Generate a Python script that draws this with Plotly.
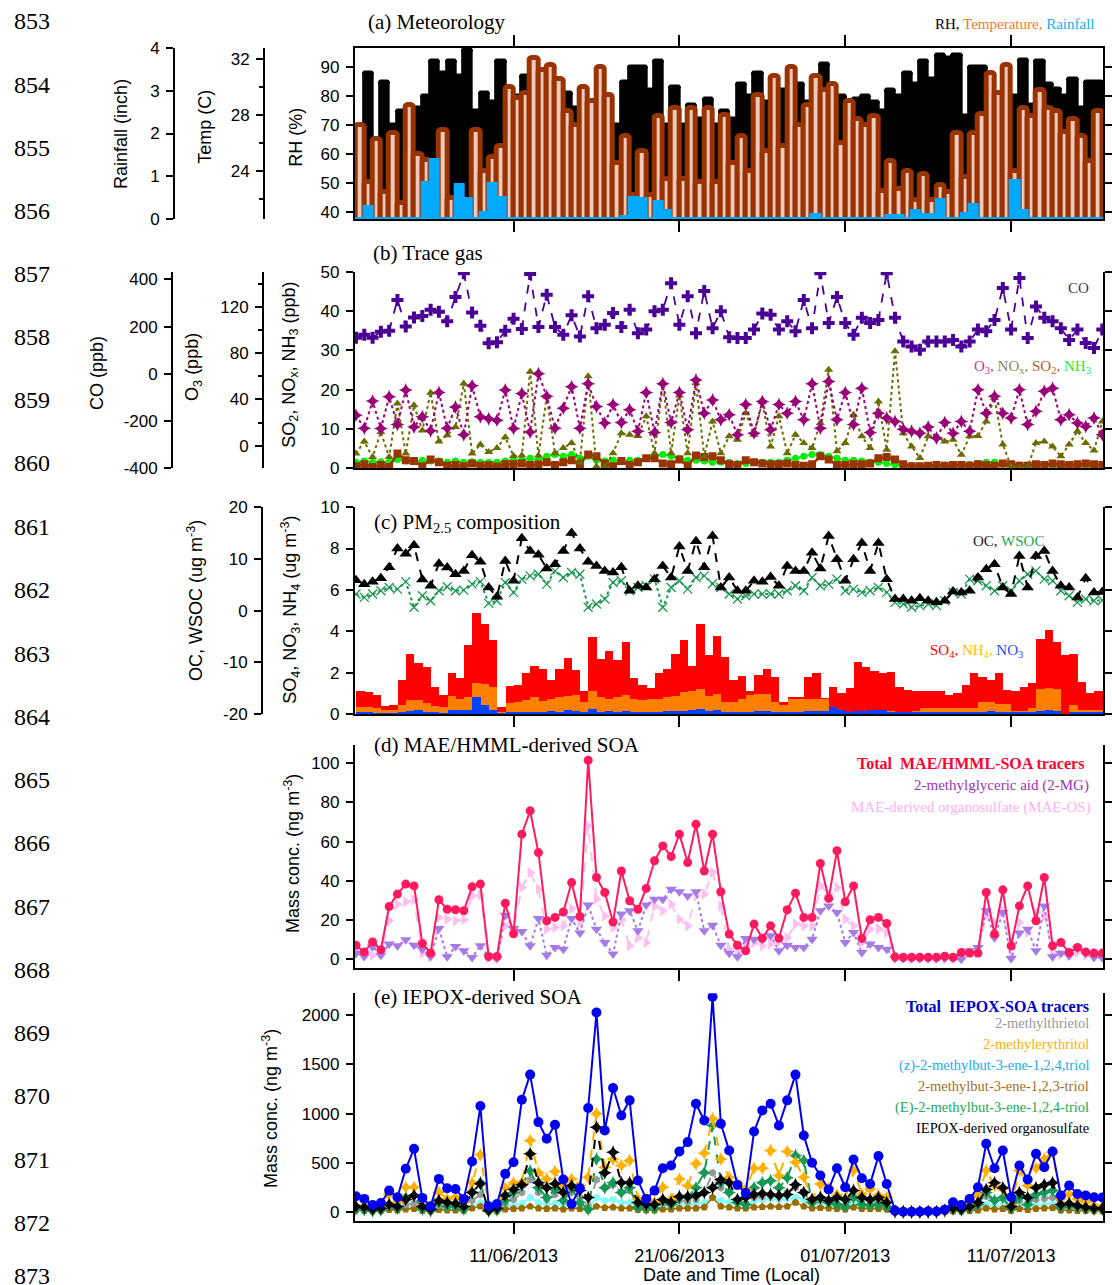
import plotly.graph_objects as go
import pandas as pd

W, H = 1112, 1285

# ---------------- data (12-h samples) ----------------
dates = pd.date_range("2013-06-01 12:00", periods=91, freq="12h")
x_ticks = ["2013-06-11", "2013-06-21", "2013-07-01", "2013-07-11"]
line_numbers = [str(n) for n in range(853, 874)]

rh = [65, 88, 62, 85, 70, 75, 70, 76, 80, 92,
      88, 92, 87, 96, 75, 81, 78, 92, 75, 80,
      87, 85, 84, 80, 84, 81, 76, 74, 72, 75,
      74, 70, 85, 90, 90, 82, 92, 70, 83, 70,
      77, 72, 79, 70, 75, 72, 84, 80, 88, 78,
      81, 82, 80, 84, 78, 82, 91, 80, 80, 78,
      79, 80, 78, 75, 82, 80, 88, 84, 92, 86,
      94, 93, 94, 73, 90, 90, 80, 78, 85, 80,
      92.5, 77, 92, 84, 82.5, 80, 86, 76, 85, 85,
      70]
temp = [27.3, 23.2, 26.3, 22.5, 26.7, 21.7, 28.7, 25.2, 24.8, 24.6,
        26.9, 22.1, 21.9, 21.5, 26.9, 24.0, 25.0, 25.8, 30.0, 29.2,
        29.6, 32.1, 31.2, 31.6, 30.6, 28.3, 27.3, 30.0, 29.0, 31.4,
        29.4, 24.6, 26.5, 22.3, 25.4, 22.3, 27.9, 23.4, 28.5, 23.4,
        28.5, 23.2, 28.5, 23.2, 28.0, 24.6, 26.5, 24.0, 29.4, 25.4,
        30.8, 25.8, 31.4, 27.3, 28.7, 30.8, 29.8, 30.2, 26.0, 29.0,
        27.7, 27.3, 27.9, 22.6, 24.7, 22.7, 24.0, 21.9, 23.8, 21.9,
        23.0, 22.5, 26.7, 23.6, 26.7, 28.1, 31.0, 29.6, 31.6, 24.0,
        28.5, 27.9, 29.8, 28.5, 28.3, 26.8, 27.7, 26.5, 24.7, 28.3,
        28.3]
rain = [0, 0.28, 0, 0, 0, 0, 0, 0, 0.84, 1.37,
        0, 0, 0.79, 0.47, 0, 0.15, 0.81, 0.5, 0, 0,
        0, 0, 0, 0, 0, 0, 0, 0, 0, 0,
        0, 0, 0.05, 0.5, 0.47, 0, 0.4, 0.19, 0, 0,
        0, 0, 0, 0, 0, 0, 0, 0, 0, 0,
        0, 0, 0, 0, 0, 0.09, 0, 0, 0, 0,
        0, 0, 0, 0, 0.07, 0.07, 0, 0.19, 0.1, 0.1,
        0.44, 0, 0, 0.12, 0.33, 0, 0, 0, 0, 0.88,
        0.19, 0, 0, 0, 0, 0, 0, 0, 0, 0,
        0]

co = [153, 165, 153, 178, 182, 313, 200, 238, 245, 271,
      263, 222, 325, 426, 260, 203, 129, 134, 182, 233,
      190, 423, 198, 335, 198, 165, 248, 158, 328, 193,
      208, 257, 198, 271, 172, 187, 265, 271, 384, 208,
      328, 172, 351, 193, 265, 155, 152, 152, 187, 255,
      250, 187, 222, 180, 313, 193, 426, 215, 325, 215,
      165, 237, 215, 228, 426, 237, 137, 115, 102, 137,
      137, 137, 143, 115, 137, 187, 180, 228, 363, 187,
      406, 152, 285, 237, 222, 193, 143, 187, 130, 109,
      187]
o3 = [26.4, 15.2, 38.6, 14.9, 42.3, 18.3, 48.1, 16.3, 25.1, 12.9,
      46.1, 15.2, 33.5, 9.5, 51.8, 25.1, 23.4, 22.0, 48.1, 14.9,
      45.1, 11.9, 62.3,
      42.7, 15.2, 32.5, 51.1, 15.2, 53.5, 33.9, 19.6, 35.6, 20.0,
      31.2, 12.5, 46.1, 11.5, 53.5, 20.0, 46.1, 13.9, 56.9, 28.1,
      39.6, 22.4, 26.8, 9.5, 35.6, 10.8, 38.3, 13.9, 35.6, 28.1,
      38.3, 22.4, 53.5, 15.2, 55.6, 22.4, 46.1, 18.3, 49.8, 11.5,
      28.1, 24.1, 21.0, 14.2, 12.5, 10.8, 16.3, 6.8, 20.0, 10.8,
      21.0, 12.5, 48.4, 28.1, 42.7, 28.1, 24.1, 48.4, 18.3, 29.8,
      47.1, 49.8, 22.4, 26.8, 19.6, 16.6, 24.1, 9.5]
nox = [3.7, 6.8, 2.8, 9.2, 2.8, 16.5, 3.7, 16, 9.6, 19.2,
       6.8, 8.4, 10.5, 21.6, 3.7, 6, 4.1, 5.1, 7.9, 3.1,
       3.2, 24.6, 3.2, 18.2, 3.8,
       5.1, 6.4, 1.4, 23.4, 0.4, 0.4, 3.8, 8.9,
       8.5, 8.2, 13.2, 3.8, 21.7, 3.8, 18.5, 3.8, 21.7, 3,
       11.9, 3.8, 8.1, 7.2, 14, 8.5, 16.8, 5.5, 13.2, 3.8,
       8.5, 6.4, 5.1, 11.5, 25.1, 4.3, 6.4, 13.6, 8.1,
       5.1, 17, 4.7, 29.8, 8.9, 5.5, 2.6, 8.1, 8.1,
       6.8, 7.2, 3.4, 8.1, 8.2, 11.9, 17.9, 6,
       0.4, 0, 0.3, 6.4, 6.8, 5.5, 3, 6,
       9.4, 6.4, 4.5, 11.9]
so2 = [0.5, 1.0, 0.3, 0.8, 0.3, 3.7, 2.0, 1.8, 0.5, 2.2,
       1.5, 0.6, 0.8, 0.5, 1.2, 0.6, 0.7, 0.4, 1.0, 1.0,
       1.2, 0.8, 0.9, 1.5, 0.8, 1.5, 2.0, 1.0, 3.5, 3.0,
       1.2, 0.5, 1.8, 0.8, 1.5, 2.5, 2.5, 1.2, 1.0, 2.2,
       0.6, 3.2, 2.8, 3.0, 2.0, 1.0, 0.8, 2.0, 1.5, 1.2,
       1.0, 1.0, 1.2, 0.8, 0.6, 1.0, 3.0, 2.2, 0.8, 0.8,
       1.0, 1.0, 1.2, 2.5, 2.8, 2.2, 1.0, 0.5, 0.5, 0.6,
       0.8, 0.6, 0.8, 0.8, 0.6, 1.0, 0.8, 0.6, 1.2, 1.0,
       0.6, 0.6, 1.0, 0.8, 1.2, 1.0, 0.8, 1.0, 1.2, 1.0,
       0.8]
nh3 = [1.5, 1.8, 1.5, 1.6, 1.5, 2.2, 1.8, 1.6, 2.0, 1.8,
       1.8, 1.5, 1.8, 1.5, 1.6, 1.5, 1.5, 1.5, 1.8, 2.0,
       2.0, 2.5, 2.0, 3.0, 3.5, 3.0, 3.5, 2.5, 3.0, 2.0,
       1.8, 2.0, 1.8, 2.0, 2.0, 2.5, 3.0, 3.5, 3.0, 2.5,
       2.0, 2.0, 1.8, 1.5, 1.5, 1.5, 1.2, 1.2, 1.5, 1.5,
       1.5, 1.5, 2.0, 2.5, 3.0, 3.5, 3.5, 3.0, 2.5, 2.0,
       2.0, 1.8, 1.5, 1.5, 1.2, 0.8, 0.8, 0.6, 0.6, 0.6,
       0.8, 0.8, 0.8, 1.0, 1.0, 1.2, 1.5, 1.5, 1.0, 1.0,
       0.8, 0.8, 0.8, 0.8, 0.6, 0.6, 0.6, 0.6, 0.6, 0.6,
       0.6]

oc = [5.88, 5.12, 5.6, 6.28, 8.4, 12.0, 11.0, 12.64, 6.0, 4.8,
      9.08, 8.32, 7.04, 7.68, 10.72, 9.44, 4.48, 2.68, 9.6, 5.76,
      14.0, 11.52, 10.8, 8.16, 8.96, 11.52, 15.0, 12.0, 9.44, 8.64,
      7.68, 7.36, 8.4, 3.84, 4.8, 4.48, 6.08, 8.64, 6.4, 12.4,
      7.68, 13.4, 8.4, 14.4, 4.48, 6.4, 3.84, 3.84, 5.76, 5.6,
      6.52, 4.8, 8.64, 7.68, 7.68, 11.2, 8.16, 14.4, 9.92, 5.76,
      9.92, 13.08, 7.68, 13.08, 6.08, 2.24, 2.24, 1.92, 2.4, 1.92,
      1.6, 1.92, 3.72, 3.52, 3.84, 6.4, 8.0, 8.96, 4.48, 3.2,
      10.56, 4.48, 10.56, 11.52, 7.68, 4.8, 4.48, 2.56, 6.28, 3.52,
      3.6]
wsoc = [3.2, 2.56, 3.2, 3.84, 4.48, 4.16, 5.6, 0.64, 2.88, 1.92,
        3.84, 4.6, 3.84, 3.96, 5.12, 5.6, 1.4, 1.92, 5.44, 3.52,
        6.08, 6.72, 7.04, 5.12, 7.68, 6.4, 7.36, 7.04, 0.64, 1.28,
        2.24, 5.44, 5.76, 3.84, 4.48, 4.8, 6.08, 0.64, 4.48, 5.76,
        4.16, 6.4, 6.72, 5.2, 4.48, 3.2, 2.24, 2.88, 3.2, 3.2,
        3.2, 3.2, 3.84, 4.8, 3.84, 6.4, 4.8, 5.12, 6.08, 3.84,
        4.16, 3.52, 3.84, 4.48, 3.52, 1.6, 1.28, 0.64, 0.96, 1.28,
        0.96, 1.92, 3.52, 3.2, 6.08, 5.76, 4.8, 3.84, 4.8, 3.84,
        5.76, 7.04, 7.68, 6.08, 5.76, 3.84, 2.88, 1.6, 2.24, 1.92,
        2.0]
so4 = [1.09, 1.05, 0.93, 0.4, 0.45, 1.65, 2.9, 2.45, 2.25, 1.33,
       0.93, 2.0, 1.73, 3.32, 4.87, 4.36, 3.56, 0.34, 1.37, 1.4,
       2.0, 2.3, 2.2, 1.65, 2.16, 2.72, 2.12, 1.09, 3.72, 2.68,
       3.03, 2.6, 3.48, 1.73, 1.4, 1.25, 2.0, 2.2, 2.9, 3.56,
       2.32, 4.33, 2.84, 3.77, 2.76, 1.65, 1.84, 1.12, 1.88, 2.17,
       1.77, 0.56, 0.81, 0.81, 1.8, 2.0, 0.77, 1.33, 1.0, 1.25,
       2.52, 2.28, 2.08, 2.0, 2.04, 1.33, 1.17, 1.12, 1.09, 1.09,
       1.12, 0.93, 1.04, 1.4, 2.0, 1.8, 1.65, 1.96, 1.17, 1.09,
       1.3, 1.49, 3.64, 4.04, 3.48, 2.84, 2.92, 1.57, 1.0, 1.09,
       1.09]
nh4 = [0.35, 0.35, 0.3, 0.2, 0.2, 0.45, 0.7, 0.7, 0.55, 0.4,
       0.35, 0.85, 0.75, 0.8, 1.5, 1.45, 1.3, 0.1, 0.55, 0.6,
       0.7, 0.8, 0.65, 0.75, 0.8, 0.85, 0.9, 0.6, 1.1, 0.8,
       0.75, 0.8, 0.9, 0.75, 0.7, 0.75, 0.75, 0.8, 0.85, 1.05,
       1.1, 1.2, 0.85, 0.95, 0.6, 0.6, 0.75, 0.9, 0.95, 0.95,
       0.6, 0.45, 0.75, 0.75, 0.75, 0.75, 0.75, 0.3, 0.15, 0.12,
       0.15, 0.15, 0.12, 0.12, 0.15, 0.12, 0.12, 0.15, 0.3, 0.3,
       0.3, 0.3, 0.3, 0.3, 0.3, 0.6, 0.6, 0.5, 0.5, 0.15,
       0.15, 0.3, 1.2, 1.25, 1.2, 0.0, 0.45, 0.2, 0.2, 0.2,
       0.2]
no3 = [0.08, 0.08, 0.06, 0.05, 0.05, 0.1, 0.15, 0.18, 0.12, 0.08,
       0.06, 0.2, 0.18, 0.2, 0.8, 0.45, 0.2, 0.05, 0.08, 0.1,
       0.12, 0.1, 0.1, 0.15, 0.12, 0.2, 0.15, 0.1, 0.25, 0.12,
       0.15, 0.12, 0.15, 0.12, 0.1, 0.12, 0.12, 0.15, 0.15, 0.15,
       0.2, 0.25, 0.15, 0.2, 0.12, 0.1, 0.1, 0.12, 0.15, 0.15,
       0.12, 0.1, 0.12, 0.12, 0.15, 0.15, 0.15, 0.35, 0.2, 0.12,
       0.15, 0.15, 0.18, 0.2, 0.12, 0.12, 0.12, 0.1, 0.1, 0.12,
       0.1, 0.1, 0.12, 0.12, 0.1, 0.12, 0.15, 0.12, 0.1, 0.12,
       0.12, 0.12, 0.15, 0.2, 0.15, 0.0, 0.12, 0.1, 0.1, 0.1,
       0.1]

mae_total = [7.1, 3.7, 8.8, 4.8, 26.9, 33.2, 38.3, 37.4, 8.0, 3.1,
             30.3, 25.5, 25.2, 24.7, 36.9, 38.3, 1.4, 1.4, 28.6, 13.0,
             63.8, 75.7, 54.4, 19.6, 21.3, 24.1, 39.1, 21.8, 101.5, 41.7,
             34.0, 19.0, 45.0, 29.8, 25.5, 36.1, 50.2, 57.8, 52.4, 63.8,
             49.3, 68.9, 45.0, 63.8, 34.4, 12.8, 7.1, 4.3, 17.9, 10.7,
             17.0, 10.7, 25.2, 33.7, 21.3, 21.3, 48.8, 31.0, 55.3, 29.3,
             37.4, 10.5, 20.1, 21.3, 18.2, 1.2, 1.0, 1.0, 1.0, 1.0,
             1.0, 1.5, 1.0, 3.4, 3.1, 3.1, 34.0, 12.8, 35.4, 6.8,
             27.2, 37.4, 19.6, 41.7, 6.8, 8.5, 3.4, 6.0, 3.7, 3.1,
             3.1]
mg2 = [3, 1.4, 6.5, 2, 7.7, 6.8, 9.9, 7.1, 5.1, 1.4,
       15.6, 1.2, 6.5, 4.3, 0.9, 6.8, 1.2, 0.3, 22.4, 15.6,
       14.1, 6.8, 20.7, 2.0, 6.0, 5.1, 20.7, 13.3, 27.6, 15.3,
       8.5, 2.6, 23.0, 24.7, 14.5, 27.6, 30.6, 30.6, 35.7, 34.4,
       32.3, 34.4, 14.5, 17.3, 7.1, 3.0, 1.2, 10.5, 10.2, 9.9,
       11.9, 4.3, 7.1, 6.0, 6.0, 10.2, 24.7, 27.2, 23.8, 8.5,
       13.6, 3.4, 7.7, 6.0, 5.1, 0.3, 0.3, 0.3, 0.3, 0.3,
       0.3, 0.3, 0.3, 0.0, 4.3, 6.0, 24.7, 11.0, 23.8, 0.3,
       13.3, 15.3, 4.3, 27.2, 1.2, 3.0, 1.7, 5.4, 3.0, 0.9,
       0.9]
mae_os = [4, 2, 2, 3, 19.6, 28, 29.3, 30.3, 3, 1.5,
          21.3, 20.4, 19.6, 20.1, 32.3, 32.7, 0.5, 0.5, 17, 15.3,
          36.6, 44.2, 35.7, 15.3, 16.2, 17, 25.9, 18.7, 68, 30.6,
          22.1, 16, 20, 6.8, 11, 8.5, 27.2, 24.7, 28, 20.4,
          17, 32.3, 33.2, 44.2, 27.2, 5.1, 3.7, 6.8, 8.5, 6.8,
          7.7, 8.8, 11, 17.9, 17, 17, 37.4, 33.2, 36.6, 20.4,
          17, 8.5, 15.3, 15.6, 13.6, 0.3, 0.3, 0.3, 0.3, 0.3,
          0.3, 0.3, 0.3, 1, 3.7, 3, 22.1, 18.7, 24.7, 2,
          18.7, 13.6, 23.8, 22.1, 3.4, 2.6, 2, 3.4, 2, 1.7,
          1.7]

iepox_total = [163, 136, 75, 95, 220, 153, 441, 644, 146, 61,
               339, 244, 237, 136, 515, 1078, 61, 85, 390, 508,
               1142, 1397, 915, 746, 888, 332, 85, 244, 1058, 2027,
               831, 1261, 983, 1136, 322, 136, 220, 447, 475, 617,
               712, 1102, 932, 2187, 898, 627, 278, 197, 820, 1034,
               1102, 881, 1136, 1397, 780, 502, 373, 231, 447, 254,
               536, 346, 288, 570, 288, 17, 5, 5, 5, 10,
               8, 27, 102, 75, 136, 254, 695, 447, 627, 153,
               475, 332, 593, 458, 617, 170, 271, 186, 170, 153,
               150]
mt2 = [40, 30, 20, 25, 60, 40, 80, 90, 30, 20,
       70, 50, 50, 30, 120, 180, 15, 20, 90, 130,
       200, 330, 200, 130, 180, 120, 200, 150, 60, 330,
       250, 280, 200, 220, 80, 50, 60, 90, 80, 120,
       110, 130, 200, 400, 250, 200, 110, 90, 150, 160,
       170, 160, 200, 250, 200, 90, 120, 100, 90, 70,
       150, 120, 110, 110, 80, 5, 3, 3, 3, 3,
       5, 10, 30, 20, 40, 70, 160, 120, 140, 40,
       120, 90, 130, 140, 150, 50, 60, 40, 40, 30,
       30]
me2 = [60, 70, 40, 50, 186, 102, 254, 254, 68, 50,
       203, 136, 153, 102, 300, 583, 60, 60, 250, 300,
       305, 729, 400, 339, 414, 271, 339, 271, 356, 1000,
       458, 542, 475, 525, 136, 136, 102, 254, 136, 339,
       271, 492, 600, 949, 542, 356, 298, 237, 447, 447,
       627, 373, 617, 508, 356, 136, 288, 244, 176, 136,
       424, 186, 237, 176, 153, 7, 5, 5, 5, 5,
       5, 10, 51, 40, 102, 170, 424, 271, 237, 68,
       424, 271, 447, 542, 610, 136, 186, 136, 108, 68,
       60]
z_triol = [30, 20, 15, 20, 40, 30, 50, 60, 20, 15,
           40, 30, 30, 20, 60, 100, 10, 15, 50, 70,
           90, 150, 100, 80, 90, 70, 100, 80, 50, 150,
           120, 130, 100, 100, 50, 40, 40, 60, 60, 80,
           80, 90, 100, 150, 120, 100, 90, 80, 120, 130,
           140, 130, 140, 150, 130, 80, 90, 70, 60, 50,
           90, 60, 60, 60, 50, 3, 2, 2, 2, 2,
           3, 8, 20, 15, 30, 40, 80, 60, 70, 30,
           70, 50, 70, 80, 90, 40, 40, 30, 30, 20,
           20]
triol123 = [20, 15, 10, 12, 25, 20, 30, 35, 15, 10,
            25, 20, 20, 15, 40, 60, 5, 10, 30, 35,
            40, 60, 40, 35, 40, 30, 40, 35, 20, 60,
            45, 50, 40, 40, 25, 20, 20, 30, 30, 40,
            40, 40, 50, 150, 60, 50, 40, 40, 50, 55,
            60, 55, 60, 100, 60, 40, 45, 40, 35, 30,
            50, 35, 35, 35, 30, 2, 1, 1, 1, 1,
            2, 5, 10, 8, 15, 20, 40, 30, 35, 15,
            35, 25, 35, 40, 45, 20, 20, 15, 15, 12,
            12]
e_triol = [30, 25, 15, 20, 80, 40, 150, 170, 30, 15,
           100, 60, 60, 30, 200, 300, 10, 20, 120, 200,
           280, 420, 250, 150, 230, 120, 250, 100, 30, 540,
           250, 300, 200, 250, 50, 40, 40, 120, 80, 150,
           150, 250, 400, 881, 300, 200, 100, 80, 250, 300,
           320, 250, 350, 576, 525, 100, 150, 100, 80, 60,
           150, 80, 70, 80, 60, 3, 2, 2, 2, 2,
           5, 10, 30, 20, 40, 80, 200, 120, 150, 40,
           150, 80, 180, 200, 220, 50, 70, 50, 40, 30,
           30]
iepox_os = [60, 50, 30, 40, 80, 60, 130, 170, 60, 30,
            120, 100, 90, 60, 200, 290, 20, 40, 170, 230,
            280, 593, 300, 250, 290, 200, 270, 220, 150, 864,
            400, 610, 300, 300, 100, 80, 80, 130, 100, 160,
            160, 170, 200, 250, 330, 300, 130, 150, 180, 190,
            180, 170, 180, 280, 200, 130, 150, 120, 150, 130,
            220, 150, 130, 150, 100, 10, 5, 5, 5, 5,
            5, 20, 40, 30, 60, 100, 230, 300, 250, 60,
            200, 150, 250, 280, 300, 80, 90, 70, 50, 40,
            40]

# ---------------- helpers ----------------
# the page photo maps figure y to 9 + 0.985*y; place things so they land where the reference has them
OFF, SCL = 9.0, 0.985

def fy(p):
    return (p - OFF) / SCL

def xp(p):
    return p / W

def yp(p):
    return 1 - fy(p) / H

def ydom(top, bottom):
    return [1 - fy(bottom) / H, 1 - fy(top) / H]

SANS = "Liberation Sans"
SERIF = "Liberation Serif"
BAR_W = 12 * 3600 * 1000

fig = go.Figure()

def X(series):
    return dates[:len(series)]

def bar(y, yaxis, xaxis, color, line=None, radius=0):
    fig.add_trace(go.Bar(x=X(y), y=y, xaxis=xaxis, yaxis=yaxis, width=BAR_W, offset=0,
                         marker=dict(color=color, line=line or dict(width=0),
                                     cornerradius=radius)))

def scat(y, yaxis, xaxis, color, symbol, size, dash="solid", lw=1.8, mline=None):
    fig.add_trace(go.Scatter(x=X(y), y=y, xaxis=xaxis, yaxis=yaxis, mode="lines+markers",
                             line=dict(color=color, width=lw, dash=dash),
                             marker=dict(color=color, symbol=symbol, size=size,
                                         line=mline or dict(width=0))))

# panel a
bar(rh, "y", "x", "black", dict(color="black", width=3.5), 2)
bar(temp, "y2", "x", "#efc9bc", dict(color="#993300", width=5), 3)
bar(rain, "y3", "x", "#00aaff", dict(color="#00aaff", width=3), 0)

# panel b
scat(nh3, "y4", "x2", "#00ee00", "circle", 7, "solid", 2)
scat(so2, "y4", "x2", "#993300", "square", 8, "solid", 2.5)
scat(nox, "y4", "x2", "#6b6b00", "triangle-up", 8, "dot", 2)
scat(o3, "y5", "x2", "#990077", "star-diamond", 10, "dot", 2)
scat(co, "y6", "x2", "#4b0096", "cross", 10, "dash", 1.8)

# panel c
bar(so4, "y7", "x3", "#ff0000")
bar(nh4, "y7", "x3", "#ff8000")
bar(no3, "y7", "x3", "#0040ff")
scat(wsoc, "y8", "x3", "#1a9850", "x-thin-open", 9, "dot", 2,
     dict(color="#1a9850", width=1.3))
scat(oc, "y8", "x3", "black", "triangle-up", 11, "dash", 2)

# panel d
scat(mae_os, "y9", "x4", "#ffc0f0", "triangle-right", 10, "dash", 2)
scat(mg2, "y9", "x4", "#a67be8", "triangle-down", 10, "dot", 2)
scat(mae_total, "y9", "x4", "#ff1a5e", "circle", 9, "solid", 2)

# panel e
scat(z_triol, "y10", "x5", "#80ffff", "circle", 7, "solid", 2)
scat(triol123, "y10", "x5", "#9c6b00", "pentagon", 8, "solid", 1.5)
scat(mt2, "y10", "x5", "#999999", "hexagon", 8, "dash", 2)
scat(e_triol, "y10", "x5", "#119955", "star-diamond", 10, "dash", 2)
scat(me2, "y10", "x5", "#ffb000", "star-diamond", 10, "dash", 2)
scat(iepox_os, "y10", "x5", "black", "star-diamond", 10, "dash", 2)
scat(iepox_total, "y10", "x5", "#0000ee", "circle", 10, "solid", 2)

# ---------------- axes ----------------
tickfont = dict(family=SANS, size=17, color="black")
base_ax = dict(showgrid=False, zeroline=False, showline=True, linecolor="black", linewidth=1.5,
               ticks="outside", ticklen=7, tickwidth=1.5, tickcolor="black", tickfont=tickfont,
               ticklabelstandoff=3)
xdom = [355 / W, 1104 / W]
xrange = ["2013-06-01 10:07", "2013-07-16 13:00"]
xcommon = dict(base_ax, type="date", domain=xdom, range=xrange, tickvals=x_ticks,
               ticklen=11, showticklabels=False)

dom_a = ydom(48, 219)
dom_b = ydom(272, 468)
dom_c = ydom(507, 714)
dom_d = ydom(745, 968)
dom_e = ydom(993, 1221)

co_ticks = [-400, -200, 0, 200, 400]
oc_ticks = [-20, -10, 0, 10, 20]

layout = dict(
    width=W, height=H, margin=dict(l=0, r=0, t=0, b=0), autosize=False,
    paper_bgcolor="white", plot_bgcolor="white", showlegend=False, barmode="overlay",
    bargap=0,
    xaxis=dict(xcommon, anchor="y", mirror="allticks"),
    xaxis2=dict(xcommon, anchor="y4"),
    xaxis3=dict(xcommon, anchor="y7"),
    xaxis4=dict(xcommon, anchor="y9"),
    xaxis5=dict(xcommon, anchor="y10", showticklabels=True, tickformat="%d/%m/%Y",
                tickfont=dict(family=SANS, size=18, color="black"), ticklabelstandoff=6),
    yaxis=dict(base_ax, domain=dom_a, anchor="x", range=[37.59, 96.55],
               tickvals=[40, 50, 60, 70, 80, 90], mirror="ticks"),
    yaxis2=dict(base_ax, overlaying="y", anchor="free", position=264 / W,
                range=[20.57, 32.79], tickvals=[24, 28, 32],
                minor=dict(tickvals=[22, 26, 30], ticklen=4, ticks="outside",
                           tickwidth=1.5, tickcolor="black")),
    yaxis3=dict(base_ax, overlaying="y", anchor="free", position=174 / W,
                range=[0, 4.0], tickvals=[0, 1, 2, 3, 4]),
    yaxis4=dict(base_ax, domain=dom_b, anchor="x2", range=[0, 50],
                tickvals=[0, 10, 20, 30, 40, 50], mirror="ticks"),
    yaxis5=dict(base_ax, overlaying="y4", anchor="free", position=263 / W,
                range=[-19.3, 150.1], tickvals=[0, 40, 80, 120],
                minor=dict(tickvals=[20, 60, 100, 140], ticklen=4, ticks="outside",
                           tickwidth=1.5, tickcolor="black")),
    yaxis6=dict(base_ax, overlaying="y4", anchor="free", position=172 / W,
                range=[-400, 431], tickvals=co_ticks, ticktext=[str(v) for v in co_ticks]),
    yaxis7=dict(base_ax, domain=dom_c, anchor="x3", range=[0, 10],
                tickvals=[0, 2, 4, 6, 8, 10], mirror="ticks"),
    yaxis8=dict(base_ax, overlaying="y7", anchor="free", position=262 / W,
                range=[-20, 20], tickvals=oc_ticks, ticktext=[str(v) for v in oc_ticks]),
    yaxis9=dict(base_ax, domain=dom_d, anchor="x4", range=[-4.6, 109.2],
                tickvals=[0, 20, 40, 60, 80, 100], mirror="ticks"),
    yaxis10=dict(base_ax, domain=dom_e, anchor="x5", range=[-91, 2223],
                 tickvals=[0, 500, 1000, 1500, 2000], mirror="ticks"),
)
fig.update_layout(**layout)

# ---------------- texts ----------------
ann = []

def text(t, x, y, size=17, family=SANS, xanchor="center", angle=0, color="black"):
    ann.append(dict(text=t, x=xp(x), y=yp(y), xref="paper", yref="paper", showarrow=False,
                    xanchor=xanchor, yanchor="middle", textangle=angle,
                    font=dict(family=family, size=size, color=color)))

line_y = [21, 85, 148, 211, 274, 337, 400, 463, 527, 590, 654, 717, 780, 843, 907,
          970, 1033, 1096, 1160, 1223, 1276]
for n, yy in zip(line_numbers, line_y):
    text(n, 12, yy, 24, SERIF, "left")

# panel titles
text("(a) Meteorology", 366, 22, 21, SERIF, "left")
text("(b) Trace gas", 371, 253, 21, SERIF, "left")
text("(c) PM<sub>2.5</sub> composition", 372, 523, 21, SERIF, "left")
text("(d) MAE/HMML-derived SOA", 372, 745, 21, SERIF, "left")
text("(e) IEPOX-derived SOA", 372, 997, 21, SERIF, "left")

# axis titles
text("Rainfall (inch)", 121, 134, 18, angle=-90)
text("Temp (C)", 205, 127, 18, angle=-90)
text("RH (%)", 296, 137, 18, angle=-90)
text("CO (ppb)", 97, 373, 18, angle=-90)
text("O<sub>3</sub> (ppb)", 193, 367, 18, angle=-90)
text("SO<sub>2</sub>, NO<sub>x</sub>, NH<sub>3</sub> (ppb)", 290, 365, 18, angle=-90)
text("OC, WSOC (ug m<sup>-3</sup>)", 195, 600, 18, angle=-90)
text("SO<sub>4</sub>, NO<sub>3</sub>, NH<sub>4</sub> (ug m<sup>-3</sup>)", 290, 610, 18, angle=-90)
text("Mass conc. (ng m<sup>-3</sup>)", 292, 853, 18, angle=-90)
text("Mass conc. (ng m<sup>-3</sup>)", 270, 1108, 18, angle=-90)
text("Date and Time (Local)", 732, 1275, 18)

# colored legends
text("RH, <span style='color:#f07a2a'>Temperature, </span><span style='color:#10b0f0'>Rainfall</span>",
     1097, 24, 15, SERIF, "right")
text("CO", 1092, 288, 15, SERIF, "right", color="#403858")
text("<span style='color:#c8368f'>O<sub>3</sub>, </span><span style='color:#8c8c50'>NO<sub>x</sub>, </span>"
     "<span style='color:#b55a25'>SO<sub>2</sub>, </span><span style='color:#22ee33'>NH<sub>3</sub></span>",
     1094, 367, 15, SERIF, "right")
text("OC, <span style='color:#22aa55'>WSOC</span>", 1047, 541, 15, SERIF, "right", color="#202020")
text("<span style='color:#ff0000'>SO<sub>4</sub>, </span><span style='color:#ffc000'>NH<sub>4</sub>, </span>"
     "<span style='color:#2050ff'>NO<sub>3</sub></span>", 1026, 651, 15, SERIF, "right")

text("<b>Total  MAE/HMML-SOA tracers</b>", 1087, 763, 16, SERIF, "right", color="#ff0033")
text("2-methylglyceric aid (2-MG)", 1092, 785, 15, SERIF, "right", color="#9933bb")
text("MAE-derived organosulfate (MAE-OS)", 1094, 807, 15, SERIF, "right", color="#ffb0ee")

leg_e = [("<b>Total  IEPOX-SOA tracers</b>", 1006, "#0000cc", 16),
         ("2-methylthrietol", 1023, "#999999", 14.5),
         ("2-methylerythritol", 1044, "#ffb000", 14.5),
         ("(z)-2-methylbut-3-ene-1,2,4,triol", 1065, "#22aaee", 14.5),
         ("2-methylbut-3-ene-1,2,3-triol", 1086, "#a0701a", 14.5),
         ("(E)-2-methylbut-3-ene-1,2,4-triol", 1107, "#22aa55", 14.5),
         ("IEPOX-derived organosulfate", 1128, "#000000", 14.5)]
for t, yy, c, s in leg_e:
    text(t, 1092, yy, s, SERIF, "right", color=c)

fig.update_layout(annotations=ann)

page_fix = (
    "var gd=document.getElementById('{plot_id}');"
    "document.documentElement.style.margin='0';document.documentElement.style.padding='0';"
    "document.documentElement.style.overflow='hidden';"
    "document.body.style.margin='0';document.body.style.padding='0';"
    "document.body.style.overflow='hidden';document.body.style.height='1285px';"
    "document.documentElement.style.height='1285px';"
    "gd.style.position='absolute';gd.style.left='0px';gd.style.top='0px';"
)
fig.write_html("out.html", config={"displayModeBar": False}, post_script=page_fix)
